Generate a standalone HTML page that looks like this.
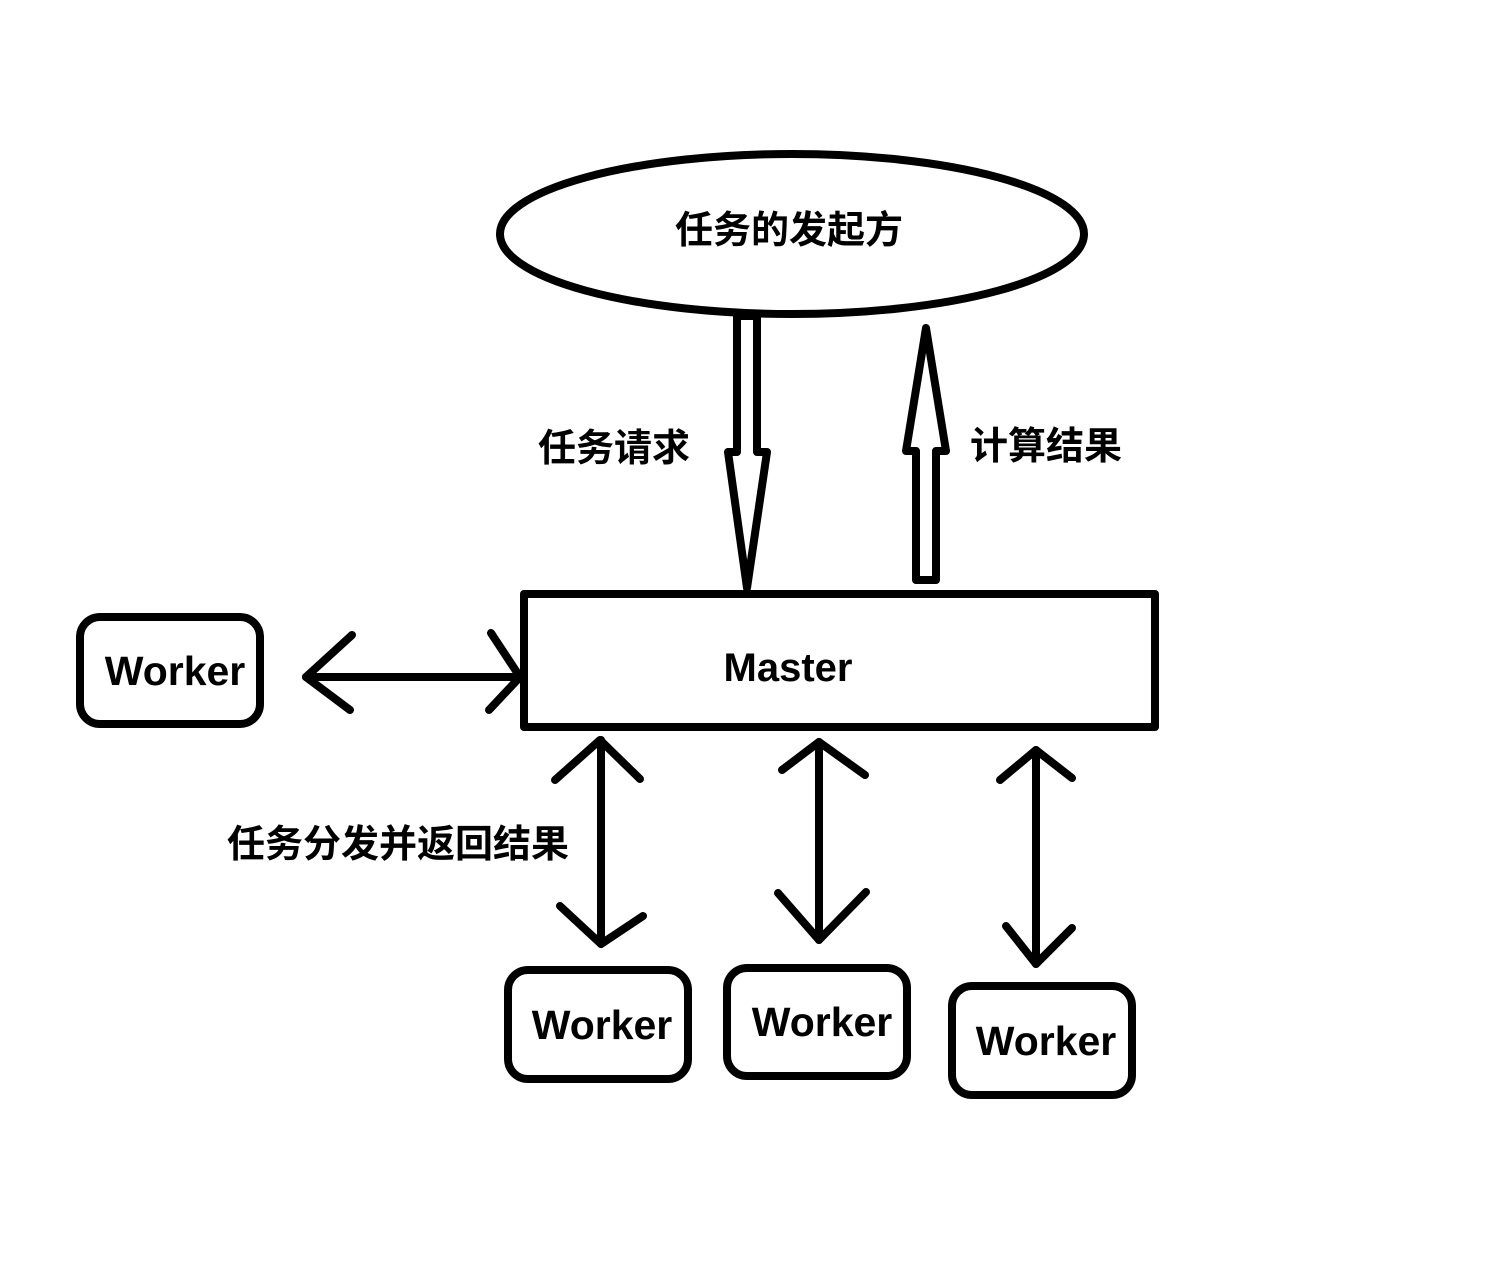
<!DOCTYPE html>
<html><head><meta charset="utf-8"><style>
html,body{margin:0;padding:0;background:#fff;width:1494px;height:1278px;overflow:hidden}
svg text{font-family:"Liberation Sans","Noto Sans CJK SC",sans-serif;font-weight:bold;fill:#000}
</style></head><body>
<svg width="1494" height="1278" viewBox="0 0 1494 1278" xmlns="http://www.w3.org/2000/svg">
<g fill="none" stroke="#000" stroke-width="8" stroke-linecap="round" stroke-linejoin="round">
<ellipse cx="792" cy="234" rx="292" ry="80"/>
<polygon points="737,316 757,316 757,452 767,452 747,588 728,452 737,452"/>
<polygon points="916,580 936,580 936,451 946,451 926,328 906,451 916,451"/>
<rect x="524" y="594" width="631" height="133"/>
<rect x="80" y="617" width="180" height="107" rx="20"/>
<rect x="508" y="970" width="180" height="109" rx="20"/>
<rect x="727" y="968" width="180" height="108" rx="20"/>
<rect x="952" y="986" width="180" height="109" rx="20"/>
<line x1="306" y1="677" x2="520" y2="677"/>
<polyline points="352,635 306,677 350,710"/>
<polyline points="491,633 520,677 489,710"/>
<line x1="601" y1="740" x2="601" y2="944"/>
<polyline points="555,780 600,740 640,779"/>
<polyline points="560,906 601,944 643,916"/>
<line x1="819" y1="742" x2="819" y2="940"/>
<polyline points="782,770 819,742 865,775"/>
<polyline points="778,893 819,940 866,892"/>
<line x1="1036" y1="750" x2="1036" y2="964"/>
<polyline points="1000,780 1036,750 1072,778"/>
<polyline points="1006,926 1036,964 1072,928"/>
</g>
<text x="789" y="243" font-size="38" text-anchor="middle">任务的发起方</text>
<text x="614" y="461" font-size="38" text-anchor="middle">任务请求</text>
<text x="1046" y="459" font-size="38" text-anchor="middle">计算结果</text>
<text x="398" y="857" font-size="38" text-anchor="middle">任务分发并返回结果</text>
<text x="788" y="681" font-size="40" text-anchor="middle">Master</text>
<text x="175" y="685" font-size="41" text-anchor="middle">Worker</text>
<text x="602" y="1039" font-size="41" text-anchor="middle">Worker</text>
<text x="822" y="1036" font-size="41" text-anchor="middle">Worker</text>
<text x="1046" y="1055" font-size="41" text-anchor="middle">Worker</text>
</svg>
</body></html>
